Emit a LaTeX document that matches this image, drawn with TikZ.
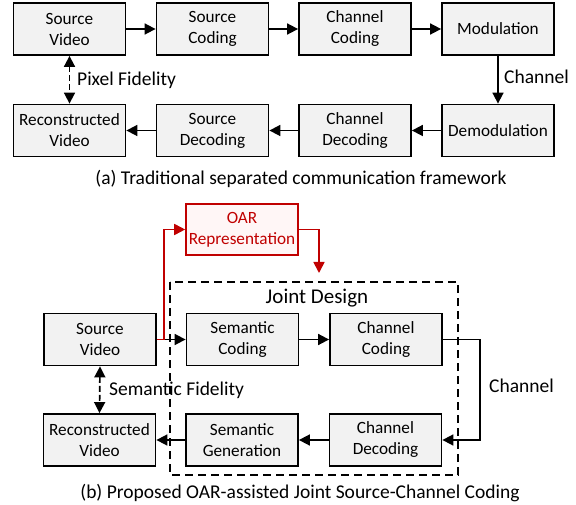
\documentclass[tikz,border=0pt]{standalone}
\usepackage{fontspec}
\setmainfont{Carlito}
\usetikzlibrary{arrows.meta}
\definecolor{boxgray}{HTML}{F2F2F2}
\definecolor{oarred}{HTML}{C00000}
\definecolor{oarfill}{HTML}{FFF6F6}
\begin{document}
\begin{tikzpicture}[x=1pt,y=-1pt,
  font=\fontsize{17.2}{21}\selectfont,
  big/.style={font=\fontsize{19.5}{23}\selectfont},
  blk/.style={draw, line width=1.8pt, fill=boxgray, minimum width=112pt, minimum height=52pt, align=center, inner sep=1pt},
  oarbox/.style={draw=oarred, line width=1.6pt, fill=oarfill, text=oarred, minimum width=112pt, minimum height=51pt, align=center, inner sep=1pt},
  arr/.style={line width=1.7pt, -{Triangle[length=11pt,width=11pt]}},
  darr/.style={line width=1.7pt, {Triangle[length=11pt,width=11pt]}-{Triangle[length=11pt,width=11pt]}, dash pattern=on 6pt off 3pt},
  redarr/.style={line width=1.7pt, draw=oarred, -{Triangle[length=11pt,width=11pt]}},
  lbl/.style={inner sep=0pt, anchor=west, big},
  jointbox/.style={line width=1.7pt, dash pattern=on 8pt off 5pt}
]
\useasboundingbox (0,0) rectangle (576,505);
% ---------- (a) ----------
\node[blk] (sv) at (69.5,29) {Source\\Video};
\node[blk] (sc) at (212.5,29) {Source\\Coding};
\node[blk] (cc) at (355,29) {Channel\\Coding};
\node[blk] (mod) at (498,29) {Modulation};
\node[blk] (rv) at (69.5,130.5) {Reconstructed\\Video};
\node[blk] (sd) at (212.5,130.5) {Source\\Decoding};
\node[blk] (cd) at (355,130.5) {Channel\\Decoding};
\node[blk] (dem) at (498,130.5) {Demodulation};
\draw[arr] (sv) -- (sc);
\draw[arr] (sc) -- (cc);
\draw[arr] (cc) -- (mod);
\draw[arr] (mod) -- (dem);
\draw[arr] (dem) -- (cd);
\draw[arr] (cd) -- (sd);
\draw[arr] (sd) -- (rv);
\draw[darr] (sv.south) -- (rv.north);
\node[lbl] (pf) at (77,80) {Pixel Fidelity};
\node[lbl] (cha) at (504,77) {Channel};
\node[big] (capa) at (301,179) {(a) Traditional separated communication framework};
% ---------- (b) ----------
\node[oarbox] (oar) at (242,229.5) {OAR\\Representation};
\node[blk] (sv2) at (100,339.5) {Source\\Video};
\node[blk] (smc) at (242.5,339.5) {Semantic\\Coding};
\node[blk] (cc2) at (386,339.5) {Channel\\Coding};
\node[blk] (rv2) at (99.5,440) {Reconstructed\\Video};
\node[blk] (smg) at (242,440) {Semantic\\Generation};
\node[blk] (cd2) at (385.5,440) {Channel\\Decoding};
\draw[jointbox] (170,282) rectangle (458,475);
\node[font=\fontsize{21}{25}\selectfont] (jd) at (317,298) {Joint Design};
\coordinate (split) at (164,339.5);
\coordinate (jtop) at (319,273);
\draw[arr] (sv2.east) -- (smc.west);
\draw[line width=1.7pt, draw=oarred] (sv2.east) -- (split);
\draw[redarr] (split) |- (oar.west);
\draw[redarr] (oar.east) -| (jtop);
\draw[arr] (smc) -- (cc2);
\draw[arr] (cc2.east) -- (480,339.5) |- (cd2.east);
\draw[arr] (cd2) -- (smg);
\draw[arr] (smg) -- (rv2);
\draw[darr] (sv2.south) -- (rv2.north);
\node[lbl] (sf) at (109,390) {Semantic Fidelity};
\node[lbl] (chb) at (489,386) {Channel};
\node[big] (capb) at (300,493) {(b) Proposed OAR-assisted Joint Source-Channel Coding};
\end{tikzpicture}
\end{document}
